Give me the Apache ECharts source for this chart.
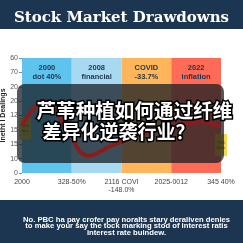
<!DOCTYPE html>
<html>
<head>
<meta charset="utf-8">
<script src="https://cdn.jsdelivr.net/npm/echarts@6/dist/echarts.min.js"></script>
<style>
  html, body { margin: 0; padding: 0; background: #fff; }
  #chart { width: 243px; height: 243px; }
</style>
</head>
<body>
<div id="chart"></div>
<script>
// data
const categories = ['2000', '2008', 'COVID', '2022'];
const barLabels = ['2000\ndot 40%', '2008\nfinancial', 'COVID\n-33.7%', '2022\ninflation'];
const barValues = [8, 8, 8, 8];
const barColors = ['#5ec4ee', '#a8d9f2', '#ffb65a', '#ff6b57'];
const yTickLabels = ['0', '10', '15', '15', '12', '20', '20', '70', '60'];
const xTickLabels = ['2000', '328-50%', '2116 COVI\n-148.0%', '2025-0012', '345 40%'];
const lineX = [0, 0.45, 0.85, 1.33, 1.8, 2.5, 3.1, 3.64, 4];
const lineY = [3.3, 5.0, 3.4, 1.2, 1.9, 2.8, 3.3, 3.55, 3.2];
const noteX = [0.06, 4.0];
const noteY = [3.1, 1.95];
const noteText = ['510\nnca', '715\nless'];

const chart = echarts.init(document.getElementById('chart'));

chart.setOption({
  animation: false,
  backgroundColor: '#fff',
  title: [
    {
      text: 'Stock Market Drawdowns',
      left: 'center',
      top: 6,
      textStyle: { color: '#fff', fontFamily: 'DejaVu Serif', fontWeight: 'bold', fontSize: 15 }
    },
    {
      text: 'No. PBC ha pay crofer pay noralts stary deraliven denies\nto make your say the tock marking stod of interest ratis\ninterest rate buindew.',
      left: 121.5,
      top: 211,
      textAlign: 'center',
      textStyle: { color: '#fff', fontFamily: 'Liberation Sans', fontWeight: 'bold', fontSize: 7.7, lineHeight: 6.8 }
    }
  ],
  grid: { left: 22, right: 22, top: 58, bottom: 70, outerBoundsMode: 'none', containLabel: false },
  xAxis: [
    { type: 'category', data: categories, show: false },
    {
      type: 'value', min: 0, max: 4, interval: 1, position: 'bottom',
      axisLine: { show: false }, axisTick: { show: false }, splitLine: { show: false },
      axisLabel: {
        color: '#444', fontSize: 7, margin: 5, lineHeight: 8, fontFamily: 'Liberation Sans',
        formatter: (v) => xTickLabels[Math.round(v)]
      }
    }
  ],
  yAxis: {
    type: 'value', min: 0, max: 8, interval: 1,
    name: 'lnetht I Dealings', nameLocation: 'middle', nameGap: 15, nameMoveOverlap: false,
    nameTextStyle: { color: '#222', fontSize: 7, fontWeight: 'bold', fontFamily: 'Liberation Sans' },
    axisLine: { show: false },
    axisTick: { show: true, length: 3, lineStyle: { color: '#888' } },
    splitLine: { show: false },
    axisLabel: {
      color: '#555', fontSize: 7, margin: 4, fontFamily: 'Liberation Sans',
      formatter: (v) => yTickLabels[Math.round(v)]
    }
  },
  series: [
    {
      type: 'bar',
      xAxisIndex: 0,
      barCategoryGap: '0%',
      data: barValues.map((v, i) => ({ value: v, itemStyle: { color: barColors[i] } })),
      label: {
        show: true, position: 'insideTop', distance: 5,
        color: '#1c3550', fontWeight: 'bold', fontSize: 7.5, lineHeight: 9,
        fontFamily: 'Liberation Sans',
        formatter: (p) => barLabels[p.dataIndex]
      }
    },
    {
      type: 'scatter',
      xAxisIndex: 1,
      symbol: 'rect',
      symbolSize: [12, 22],
      itemStyle: { color: '#f5cc1e' },
      data: noteX.map((x, i) => [x, noteY[i]]),
      label: {
        show: true, position: 'inside', color: '#222', fontSize: 4, lineHeight: 5,
        fontFamily: 'DejaVu Serif',
        formatter: (p) => noteText[p.dataIndex]
      }
    },
    {
      type: 'line',
      xAxisIndex: 1,
      yAxisIndex: 0,
      zlevel: 2,
      z: 5,
      smooth: 0.4,
      clip: false,
      showSymbol: false,
      lineStyle: { color: '#8c1c1c', width: 4 },
      data: lineX.map((x, i) => [x, lineY[i]])
    }
  ],
  graphic: [
    { type: 'rect', zlevel: 0, z: -10, shape: { x: 0, y: 0, width: 243, height: 29 }, style: { fill: '#1c3550' } },
    { type: 'rect', zlevel: 0, z: -10, shape: { x: 0, y: 200, width: 243, height: 43 }, style: { fill: '#1c3550' } },
    {
      type: 'rect', zlevel: 1,
      shape: { x: 17, y: 84, width: 207, height: 79, r: 8 },
      style: { fill: 'rgba(22,28,34,0.74)' }
    },
    {
      type: 'text', zlevel: 3, left: 35, top: 99,
      style: {
        text: '芦苇种植如何通过纤维', fill: '#fff', stroke: '#000', lineWidth: 3,
        font: 'bold 19.6px "Noto Sans CJK SC"'
      }
    },
    {
      type: 'text', zlevel: 3, left: 41, top: 121,
      style: {
        text: '差异化逆袭行业？', fill: '#fff', stroke: '#000', lineWidth: 3,
        font: 'bold 19px "Noto Sans CJK SC"'
      }
    }
  ]
});
</script>
</body>
</html>
